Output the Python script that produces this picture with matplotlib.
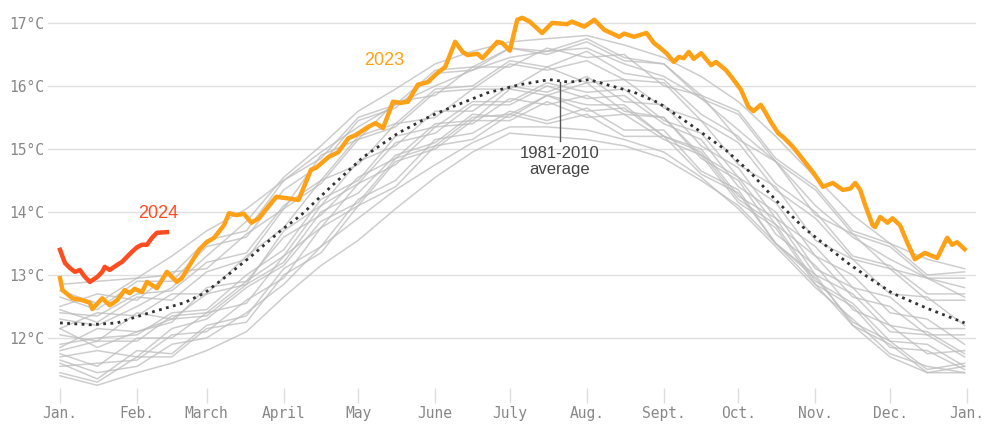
import matplotlib
matplotlib.use("Agg")
import matplotlib.pyplot as plt

# month starts (day of year) and labels
month_days = [0, 31, 59, 90, 120, 151, 181, 212, 243, 273, 304, 334, 365]
month_labels = ["Jan.", "Feb.", "March", "April", "May", "June", "July",
                "Aug.", "Sept.", "Oct.", "Nov.", "Dec.", "Jan."]

# 2023 daily sea surface temperature
days_2023 = [0, 1, 5, 9, 12, 13, 17, 20, 23, 26, 28, 30, 33, 35, 39, 43, 47, 49, 53, 56,
             59, 62, 66, 68, 71, 74, 77, 80, 82, 87, 91, 96, 101, 103, 108, 112, 116, 119,
             124, 127, 130, 134, 137, 140, 144, 148, 152, 155, 159, 162, 164, 168, 170, 176,
             178, 181, 184, 186, 189, 194, 198, 204, 206, 211, 215, 219, 225, 227, 231, 236,
             239, 241, 244, 247, 249, 251, 253, 255, 258, 262, 264, 268, 271, 274, 277, 279,
             282, 284, 286, 289, 291, 295, 299, 303, 306, 307, 311, 315, 318, 320, 322, 324,
             327, 328, 330, 333, 335, 338, 341, 344, 348, 353, 357, 359, 361, 364]
temp_2023 = [12.95, 12.76, 12.63, 12.60, 12.56, 12.46, 12.63, 12.52, 12.60, 12.76, 12.71,
             12.78, 12.73, 12.89, 12.79, 13.05, 12.89, 12.95, 13.21, 13.40, 13.52, 13.59,
             13.79, 13.98, 13.95, 13.97, 13.83, 13.90, 14.00, 14.24, 14.22, 14.19, 14.67,
             14.70, 14.87, 14.95, 15.17, 15.22, 15.35, 15.41, 15.33, 15.75, 15.73, 15.75,
             16.02, 16.06, 16.21, 16.30, 16.70, 16.54, 16.49, 16.51, 16.44, 16.70, 16.68,
             16.56, 17.05, 17.08, 17.02, 16.84, 17.00, 16.98, 17.02, 16.94, 17.05, 16.89,
             16.78, 16.83, 16.78, 16.84, 16.68, 16.62, 16.52, 16.38, 16.46, 16.44, 16.54,
             16.43, 16.52, 16.33, 16.38, 16.25, 16.10, 15.94, 15.67, 15.60, 15.70, 15.57,
             15.43, 15.25, 15.19, 15.03, 14.83, 14.63, 14.46, 14.40, 14.46, 14.35, 14.37,
             14.46, 14.35, 14.11, 13.79, 13.76, 13.92, 13.83, 13.90, 13.79, 13.51, 13.25,
             13.35, 13.27, 13.59, 13.48, 13.52, 13.41]

# 2024 so far
days_2024 = [0, 2, 4, 6, 8, 10, 12, 15, 17, 18, 20, 23, 25, 27, 29, 31, 33, 35, 37, 39, 43]
temp_2024 = [13.40, 13.19, 13.11, 13.05, 13.08, 12.97, 12.89, 12.97, 13.05, 13.13, 13.08,
             13.16, 13.21, 13.29, 13.37, 13.44, 13.48, 13.48, 13.59, 13.67, 13.68]

# 1981-2010 average
days_avg = [0, 12, 23, 36, 50, 58, 65, 77, 89, 97, 109, 122, 136, 149, 158, 172, 185, 197,
            205, 213, 220, 231, 241, 255, 268, 278, 288, 299, 309, 317, 325, 335, 349, 364]
temp_avg = [12.24, 12.21, 12.24, 12.40, 12.56, 12.71, 12.92, 13.30, 13.71, 13.95, 14.40,
            14.87, 15.25, 15.52, 15.67, 15.89, 16.02, 16.10, 16.06, 16.10, 16.02, 15.90,
            15.73, 15.35, 14.98, 14.62, 14.19, 13.76, 13.44, 13.19, 12.97, 12.71, 12.47,
            12.24]

# earlier years (estimated, individual lines not readable)
days_hist = [0, 15, 31, 45, 59, 75, 90, 105, 120, 135, 151, 166, 181, 196, 212, 227, 243,
             258, 273, 288, 304, 319, 334, 349, 364]
hist_years = [
    [12.75, 12.55, 12.95, 13.00, 13.55, 13.70, 14.50, 14.85, 15.50, 15.70, 16.25, 16.30, 16.60,
     16.55, 16.75, 16.45, 16.35, 15.85, 15.60, 14.85, 14.40, 13.70, 13.50, 13.00, 13.05],
    [12.50, 12.70, 12.60, 13.05, 13.10, 13.65, 14.05, 14.90, 15.15, 15.75, 15.85, 16.30, 16.30,
     16.60, 16.45, 16.50, 16.00, 15.85, 15.15, 14.80, 13.95, 13.65, 13.10, 12.95, 12.65],
    [12.45, 12.25, 12.65, 12.60, 13.05, 13.25, 14.05, 14.45, 15.15, 15.35, 15.90, 15.95, 16.35,
     16.25, 16.40, 16.10, 16.05, 15.45, 15.10, 14.35, 13.90, 13.25, 13.10, 12.60, 12.60],
    [12.15, 12.40, 12.35, 12.70, 12.70, 13.30, 13.75, 14.50, 14.75, 15.40, 15.50, 15.95, 15.95,
     16.30, 16.05, 16.10, 15.65, 15.45, 14.75, 14.40, 13.55, 13.25, 12.70, 12.65, 12.20],
    [12.05, 11.95, 12.40, 12.30, 12.70, 12.85, 13.70, 14.10, 14.80, 15.05, 15.60, 15.60, 16.00,
     15.90, 16.15, 15.75, 15.70, 15.05, 14.70, 13.90, 13.45, 12.80, 12.65, 12.15, 12.15],
    [11.80, 11.95, 11.95, 12.35, 12.40, 12.90, 13.30, 14.10, 14.45, 15.10, 15.25, 15.70, 15.70,
     16.00, 15.80, 15.85, 15.40, 15.15, 14.40, 14.00, 13.10, 12.80, 12.20, 12.10, 11.75],
    [11.75, 11.55, 12.00, 12.00, 12.40, 12.55, 13.30, 13.75, 14.45, 14.75, 15.35, 15.40, 15.80,
     15.70, 15.85, 15.55, 15.50, 14.85, 14.50, 13.65, 13.15, 12.45, 12.20, 11.75, 11.80],
    [11.55, 11.60, 11.65, 12.05, 12.10, 12.60, 12.95, 13.75, 14.10, 14.80, 15.00, 15.45, 15.45,
     15.75, 15.50, 15.55, 15.15, 14.90, 14.15, 13.75, 12.85, 12.50, 11.85, 11.80, 11.50],
    [11.45, 11.30, 11.70, 11.70, 12.15, 12.25, 13.00, 13.35, 14.10, 14.40, 15.05, 15.15, 15.55,
     15.40, 15.55, 15.20, 15.20, 14.60, 14.30, 13.50, 13.00, 12.20, 11.90, 11.45, 11.55],
    [12.15, 11.85, 12.10, 12.25, 12.80, 12.90, 13.60, 13.95, 14.55, 14.85, 15.40, 15.45, 15.95,
     15.85, 16.05, 15.60, 15.50, 14.90, 14.55, 13.80, 13.30, 12.65, 12.50, 12.05, 12.05],
    [11.85, 12.15, 12.10, 12.30, 12.35, 12.85, 13.20, 14.00, 14.30, 14.90, 15.10, 15.55, 15.50,
     15.85, 15.70, 15.70, 15.20, 15.00, 14.25, 13.90, 13.00, 12.70, 12.10, 12.05, 11.70],
    [12.40, 12.35, 12.70, 12.75, 13.20, 13.35, 14.10, 14.50, 15.20, 15.40, 15.95, 16.00, 16.40,
     16.30, 16.55, 16.20, 16.10, 15.55, 15.20, 14.45, 14.00, 13.30, 13.15, 12.70, 12.70],
    [11.70, 11.80, 11.70, 12.15, 12.30, 12.80, 13.15, 13.85, 14.15, 14.85, 15.05, 15.50, 15.55,
     15.85, 15.60, 15.65, 15.20, 14.95, 14.20, 13.80, 12.90, 12.55, 11.95, 11.90, 11.55],
    [12.65, 12.45, 12.90, 12.90, 13.45, 13.60, 14.35, 14.75, 15.45, 15.65, 16.20, 16.25, 16.60,
     16.50, 16.70, 16.40, 16.35, 15.80, 15.55, 14.80, 14.35, 13.65, 13.45, 12.95, 12.95],
    [11.90, 12.00, 12.05, 12.40, 12.45, 13.00, 13.40, 14.20, 14.50, 15.20, 15.35, 15.75, 15.75,
     16.05, 15.90, 15.95, 15.45, 15.25, 14.55, 14.15, 13.30, 13.00, 12.40, 12.30, 11.90],
    [11.60, 11.35, 11.80, 11.75, 12.20, 12.35, 13.10, 13.45, 14.20, 14.50, 15.15, 15.25, 15.60,
     15.45, 15.65, 15.30, 15.30, 14.65, 14.35, 13.50, 12.95, 12.25, 11.95, 11.50, 11.60],
    [12.30, 12.20, 12.50, 12.80, 13.30, 13.85, 14.55, 15.05, 15.60, 15.95, 16.35, 16.55, 16.70,
     16.75, 16.80, 16.65, 16.45, 16.15, 15.75, 15.20, 14.55, 13.95, 13.50, 13.25, 13.10],
    [11.40, 11.25, 11.45, 11.60, 11.80, 12.10, 12.65, 13.15, 13.55, 14.05, 14.55, 14.95, 15.25,
     15.20, 15.15, 15.05, 14.85, 14.50, 14.10, 13.50, 12.85, 12.20, 11.70, 11.45, 11.45],
    [12.85, 12.90, 12.95, 13.30, 13.70, 14.05, 14.50, 14.95, 15.35, 15.70, 16.00, 16.25, 16.45,
     16.55, 16.60, 16.35, 16.15, 15.80, 15.30, 14.80, 14.10, 13.60, 13.25, 12.95, 12.80],
    [11.65, 11.45, 11.55, 11.90, 12.00, 12.40, 12.85, 13.45, 13.90, 14.35, 14.75, 15.10, 15.35,
     15.35, 15.30, 15.15, 14.95, 14.55, 14.05, 13.45, 12.80, 12.30, 11.75, 11.55, 11.45],
]

fig = plt.figure(figsize=(9.94, 4.34), dpi=100)
ax = fig.add_axes([48 / 994, 0.105, 928 / 994, 0.864])

# gray spaghetti of earlier years
for vals in hist_years:
    ax.plot(days_hist, vals, color="#bdbdbd", lw=1.1, alpha=0.75, zorder=2)

ax.plot(days_avg, temp_avg, color="#333333", lw=2, linestyle=(0, (1, 1.6)),
        dash_capstyle="butt", zorder=3)
ax.plot(days_2023, temp_2023, color="#ffa116", lw=3.2, solid_joinstyle="round", zorder=4)
ax.plot(days_2024, temp_2024, color="#ff4d1f", lw=3.2, solid_joinstyle="round", zorder=5)

# labels
ax.text(130.5, 16.4, "2023", color="#ffa116", fontsize=13, family="Liberation Sans",
        ha="center", va="center")
ax.text(39.5, 13.98, "2024", color="#ff4d1f", fontsize=13, family="Liberation Sans",
        ha="center", va="center")
ax.plot([201.2, 201.2], [16.06, 15.12], color="#555555", lw=1, zorder=6)
ax.text(201.2, 14.8, "1981-2010\naverage", color="#444444", fontsize=12, linespacing=1.15,
        family="Liberation Sans", ha="center", va="center")

# axes styling
ax.set_xlim(-4.83, 368.6)
ax.set_ylim(11.2, 17.15)
ax.set_yticks([12, 13, 14, 15, 16, 17])
ax.set_yticklabels([f"{t}°C" for t in [12, 13, 14, 15, 16, 17]])
ax.grid(axis="y", color="#e0e0e0", lw=1)
ax.set_axisbelow(True)
ax.set_xticks(month_days)
ax.set_xticklabels(month_labels)
ax.tick_params(axis="x", length=11, width=1, color="#dddddd", pad=2, labelsize=10.5,
               labelcolor="#888888")
ax.tick_params(axis="y", length=0, pad=3, labelsize=10.5, labelcolor="#888888")
for lab in ax.get_xticklabels() + ax.get_yticklabels():
    lab.set_family("DejaVu Sans Mono")
for s in ax.spines.values():
    s.set_visible(False)

fig.savefig("out.png", dpi=100)
